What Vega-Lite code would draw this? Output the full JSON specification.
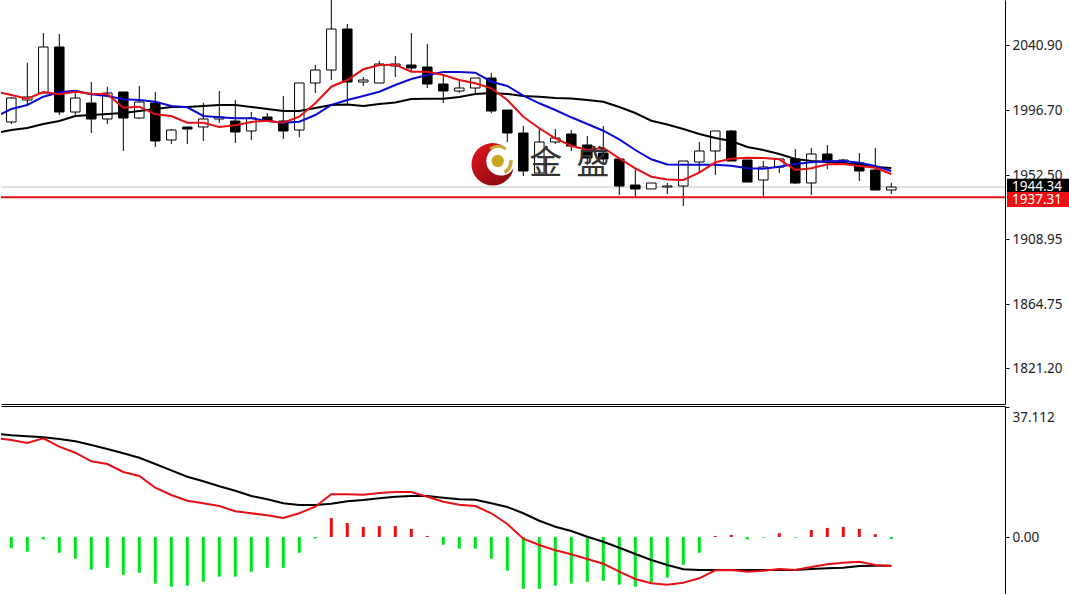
{
"$schema":"https://vega.github.io/schema/vega-lite/v6.json",
"padding":0,"spacing":2,"bounds":"flush","background":"white",
"config":{"view":{"stroke":null},"font":"Noto Sans"},
"data":{"values":[
{"i":-0.644,"slow":1981.74,"mid":1993.98,"fast":2008.46,"macd":28.06,"signal":29.32},
{"i":0,"open":1988.54,"close":2004.86,"high":2005.54,"low":1987.22,"slow":1983.1,"mid":1997.38,"fast":2006.9,"macd":27.69,"signal":29.03,"hist":-3.2},
{"i":1,"open":2003.5,"close":2005.54,"high":2028.66,"low":2000.1,"slow":1984.46,"mid":2000.1,"fast":2004.38,"macd":26.84,"signal":28.75,"hist":-4.2},
{"i":2,"open":2008.26,"close":2039.54,"high":2049.06,"low":2008.26,"slow":1987.22,"mid":2005.74,"fast":2008.94,"macd":28.18,"signal":28.46,"hist":-0.7},
{"i":3,"open":2039.54,"close":1995.34,"high":2048.38,"low":1993.3,"slow":1989.22,"mid":2008.74,"fast":2007.38,"macd":25.78,"signal":27.98,"hist":-4.5},
{"i":4,"open":1995.34,"close":2004.86,"high":2008.26,"low":1991.94,"slow":1992.62,"mid":2009.82,"fast":2009.14,"macd":24.07,"signal":27.32,"hist":-6.2},
{"i":5,"open":2001.46,"close":1990.58,"high":2015.74,"low":1981.06,"slow":1993.3,"mid":2007.38,"fast":2007.78,"macd":21.61,"signal":26.27,"hist":-9.3},
{"i":6,"open":1990.58,"close":2008.26,"high":2012.34,"low":1987.22,"slow":1993.98,"mid":2006.22,"fast":2007.58,"macd":20.84,"signal":25.12,"hist":-8.8},
{"i":7,"open":2008.94,"close":1991.26,"high":2008.94,"low":1968.82,"slow":1994.66,"mid":2003.98,"fast":1998.26,"macd":18.56,"signal":23.9,"hist":-10.8},
{"i":8,"open":1991.26,"close":2002.14,"high":2013.02,"low":1990.58,"slow":1996.02,"mid":2003.5,"fast":1998.94,"macd":17.42,"signal":22.64,"hist":-10.2},
{"i":9,"open":2001.46,"close":1975.62,"high":2008.94,"low":1971.54,"slow":1997.38,"mid":2002.34,"fast":1993.78,"macd":14.08,"signal":20.84,"hist":-13.3},
{"i":10,"open":1976.3,"close":1983.1,"high":1983.78,"low":1973.58,"slow":1998.74,"mid":1999.42,"fast":1992.62,"macd":11.99,"signal":19.04,"hist":-14.2},
{"i":11,"open":1985.14,"close":1983.78,"high":1985.14,"low":1973.58,"slow":1998.74,"mid":1998.54,"fast":1988.06,"macd":10.36,"signal":17.22,"hist":-13.9},
{"i":12,"open":1985.14,"close":1990.58,"high":2001.46,"low":1975.62,"slow":1999.42,"mid":1992.62,"fast":1988.06,"macd":9.62,"signal":15.9,"hist":-12.8},
{"i":13,"open":1990.58,"close":1991.94,"high":2009.62,"low":1987.9,"slow":2000.1,"mid":1991.74,"fast":1985.14,"macd":8.85,"signal":14.47,"hist":-11.3},
{"i":14,"open":1989.22,"close":1981.74,"high":2003.5,"low":1974.26,"slow":2000.1,"mid":1991.06,"fast":1986.3,"macd":7.34,"signal":13.22,"hist":-11.3},
{"i":15,"open":1982.42,"close":1991.26,"high":1995.34,"low":1976.3,"slow":1998.74,"mid":1991.06,"fast":1988.54,"macd":6.77,"signal":11.71,"hist":-9.9},
{"i":16,"open":1991.94,"close":1989.22,"high":1994.66,"low":1989.22,"slow":1997.38,"mid":1989.22,"fast":1989.42,"macd":6.2,"signal":10.76,"hist":-8.8},
{"i":17,"open":1989.22,"close":1982.42,"high":2006.22,"low":1976.98,"slow":1996.02,"mid":1988.06,"fast":1988.06,"macd":5.42,"signal":9.62,"hist":-8.8},
{"i":18,"open":1983.1,"close":2015.06,"high":2015.06,"low":1978.34,"slow":1996.02,"mid":1988.74,"fast":1992.14,"macd":6.77,"signal":9.14,"hist":-4.5},
{"i":19,"open":2015.06,"close":2023.9,"high":2027.3,"low":2008.26,"slow":1998.06,"mid":1993.3,"fast":2001.26,"macd":8.65,"signal":9.14,"hist":-0.4},
{"i":20,"open":2023.9,"close":2051.78,"high":2073.5,"low":2017.1,"slow":2000.1,"mid":2000.1,"fast":2012.54,"macd":12.19,"signal":9.51,"hist":5.4},
{"i":21,"open":2051.78,"close":2015.74,"high":2055.18,"low":2000.78,"slow":2000.44,"mid":2003.5,"fast":2017.1,"macd":12.19,"signal":10.19,"hist":4.0},
{"i":22,"open":2015.74,"close":2017.1,"high":2019.14,"low":2013.02,"slow":1999.42,"mid":2006.22,"fast":2024.38,"macd":12.08,"signal":10.56,"hist":2.9},
{"i":23,"open":2015.06,"close":2027.98,"high":2030.02,"low":2015.06,"slow":2000.78,"mid":2009.14,"fast":2027.3,"macd":12.56,"signal":11.05,"hist":3.1},
{"i":24,"open":2026.62,"close":2027.98,"high":2033.42,"low":2019.14,"slow":2001.8,"mid":2013.7,"fast":2027.5,"macd":12.85,"signal":11.51,"hist":3.1},
{"i":25,"open":2027.3,"close":2025.26,"high":2049.06,"low":2023.22,"slow":2004.18,"mid":2017.78,"fast":2022.74,"macd":12.85,"signal":11.71,"hist":2.3},
{"i":26,"open":2025.94,"close":2014.38,"high":2041.58,"low":2011.66,"slow":2004.38,"mid":2020.5,"fast":2022.74,"macd":11.51,"signal":11.71,"hist":0.3},
{"i":27,"open":2014.38,"close":2009.62,"high":2020.5,"low":2001.46,"slow":2004.38,"mid":2022.54,"fast":2020.5,"macd":10.08,"signal":11.22,"hist":-2.2},
{"i":28,"open":2009.62,"close":2011.66,"high":2017.1,"low":2008.26,"slow":2005.54,"mid":2022.54,"fast":2017.1,"macd":9.22,"signal":10.76,"hist":-3.3},
{"i":29,"open":2011.66,"close":2018.46,"high":2018.46,"low":2008.26,"slow":2007.58,"mid":2022.06,"fast":2014.86,"macd":8.85,"signal":10.65,"hist":-3.3},
{"i":30,"open":2018.46,"close":1996.02,"high":2021.86,"low":1994.66,"slow":2008.26,"mid":2015.94,"fast":2011.46,"macd":6.77,"signal":9.62,"hist":-6.2},
{"i":31,"open":1996.7,"close":1981.06,"high":1996.7,"low":1974.94,"slow":2007.58,"mid":2013.02,"fast":2003.5,"macd":3.71,"signal":8.57,"hist":-9.6},
{"i":32,"open":1981.06,"close":1955.22,"high":1985.82,"low":1951.82,"slow":2006.22,"mid":2006.42,"fast":1992.14,"macd":-0.49,"signal":6.77,"hist":-14.8},
{"i":33,"open":1953.86,"close":1974.94,"high":1983.78,"low":1952.5,"slow":2005.74,"mid":2001.26,"fast":1984.26,"macd":-2.28,"signal":4.65,"hist":-14.8},
{"i":34,"open":1974.94,"close":1977.66,"high":1983.78,"low":1973.58,"slow":2004.86,"mid":1996.7,"fast":1977.46,"macd":-3.8,"signal":2.94,"hist":-13.9},
{"i":35,"open":1980.38,"close":1972.22,"high":1983.1,"low":1968.82,"slow":2004.52,"mid":1991.74,"fast":1972.42,"macd":-4.94,"signal":1.71,"hist":-13.3},
{"i":36,"open":1972.9,"close":1964.06,"high":1979.02,"low":1959.3,"slow":2003.5,"mid":1987.18,"fast":1969.5,"macd":-6.28,"signal":0.09,"hist":-12.8},
{"i":37,"open":1967.46,"close":1963.38,"high":1985.82,"low":1959.3,"slow":2002.34,"mid":1982.62,"fast":1971.06,"macd":-7.62,"signal":-1.34,"hist":-12.5},
{"i":38,"open":1963.38,"close":1945.02,"high":1963.38,"low":1938.9,"slow":1998.74,"mid":1976.78,"fast":1963.86,"macd":-9.91,"signal":-3.05,"hist":-13.6},
{"i":39,"open":1945.7,"close":1943.0,"high":1957.26,"low":1936.86,"slow":1994.66,"mid":1969.5,"fast":1957.06,"macd":-11.99,"signal":-4.85,"hist":-14.2},
{"i":40,"open":1943.0,"close":1947.06,"high":1947.06,"low":1943.0,"slow":1989.42,"mid":1963.18,"fast":1951.34,"macd":-13.22,"signal":-6.57,"hist":-13.0},
{"i":41,"open":1944.34,"close":1945.02,"high":1947.06,"low":1939.58,"slow":1986.84,"mid":1959.64,"fast":1949.44,"macd":-13.62,"signal":-7.99,"hist":-11.6},
{"i":42,"open":1945.02,"close":1962.02,"high":1962.02,"low":1931.42,"slow":1983.78,"mid":1959.5,"fast":1949.1,"macd":-13.05,"signal":-9.22,"hist":-7.9},
{"i":43,"open":1961.34,"close":1968.82,"high":1974.94,"low":1953.86,"slow":1980.38,"mid":1959.5,"fast":1954.06,"macd":-11.79,"signal":-9.42,"hist":-4.5},
{"i":44,"open":1968.82,"close":1982.42,"high":1982.42,"low":1952.5,"slow":1977.66,"mid":1959.5,"fast":1961.14,"macd":-9.51,"signal":-9.42,"hist":0.3},
{"i":45,"open":1982.42,"close":1962.02,"high":1983.1,"low":1962.02,"slow":1975.62,"mid":1958.82,"fast":1963.58,"macd":-9.42,"signal":-9.42,"hist":0.6},
{"i":46,"open":1962.7,"close":1947.74,"high":1962.7,"low":1947.74,"slow":1971.54,"mid":1957.06,"fast":1964.26,"macd":-9.91,"signal":-9.42,"hist":-0.7},
{"i":47,"open":1949.1,"close":1957.94,"high":1962.02,"low":1938.22,"slow":1969.5,"mid":1956.78,"fast":1964.06,"macd":-9.62,"signal":-9.42,"hist":-0.2},
{"i":48,"open":1957.94,"close":1963.38,"high":1963.38,"low":1953.86,"slow":1966.78,"mid":1958.14,"fast":1963.18,"macd":-9.14,"signal":-9.42,"hist":1.1},
{"i":49,"open":1963.38,"close":1947.06,"high":1970.18,"low":1946.38,"slow":1963.38,"mid":1959.98,"fast":1955.9,"macd":-9.42,"signal":-9.42,"hist":-0.2},
{"i":50,"open":1947.06,"close":1966.78,"high":1970.86,"low":1938.9,"slow":1962.02,"mid":1961.14,"fast":1957.06,"macd":-8.57,"signal":-9.14,"hist":2.0},
{"i":51,"open":1966.78,"close":1961.34,"high":1972.9,"low":1956.58,"slow":1961.34,"mid":1961.82,"fast":1959.78,"macd":-7.79,"signal":-8.94,"hist":2.6},
{"i":52,"open":1961.34,"close":1962.7,"high":1963.38,"low":1960.66,"slow":1960.66,"mid":1962.02,"fast":1959.98,"macd":-7.34,"signal":-8.76,"hist":2.9},
{"i":53,"open":1960.66,"close":1955.22,"high":1967.46,"low":1948.42,"slow":1959.3,"mid":1960.86,"fast":1958.62,"macd":-7.05,"signal":-8.28,"hist":2.3},
{"i":54,"open":1955.9,"close":1942.3,"high":1970.86,"low":1942.3,"slow":1957.94,"mid":1958.62,"fast":1957.46,"macd":-7.99,"signal":-8.19,"hist":0.8},
{"i":55,"open":1942.3,"close":1944.34,"high":1947.06,"low":1939.58,"slow":1957.26,"mid":1955.22,"fast":1953.18,"macd":-8.28,"signal":-8.19,"hist":-0.6}
]},
"vconcat":[
{"width":1004,"height":404,
"encoding":{"x":{"field":"i","type":"quantitative","scale":{"domain":[-0.644,62.106],"nice":false,"zero":false,"padding":0},"axis":{"title":null,"orient":"bottom","labels":false,"ticks":false,"grid":false,"domain":true,"domainColor":"#000","domainWidth":1}}},
"layer":[
{"data":{"values":[{"level":1944.34}]},"mark":{"type":"rule","color":"#c0c0c0","strokeWidth":1},"encoding":{"x":null,"y":{"field":"level","type":"quantitative","scale":{"domain":[1796.78,2071.5],"nice":false,"zero":false},"axis":{"title":null,"orient":"right","values":[2040.9,1996.7,1952.5,1908.95,1864.75,1821.2],"format":".2f","grid":false,"domain":true,"domainColor":"#000","tickColor":"#000","tickSize":4,"labelPadding":3,"labelFont":"Noto Sans","labelFontSize":13.5,"labelColor":"#222"}}}},
{"mark":{"type":"rule","color":"#000","strokeWidth":1,"clip":true},"encoding":{"y":{"field":"low","type":"quantitative"},"y2":{"field":"high"}}},
{"mark":{"type":"bar","size":9.5,"stroke":"#000","strokeWidth":1,"orient":"vertical","clip":true},"encoding":{"y":{"field":"open","type":"quantitative"},"y2":{"field":"close"},"fill":{"condition":{"test":"datum.close<datum.open","value":"#000"},"value":"#fff"}}},
{"mark":{"type":"line","color":"#000","strokeWidth":2,"clip":true},"encoding":{"y":{"field":"slow","type":"quantitative"}}},
{"mark":{"type":"line","color":"#0a0ad2","strokeWidth":2,"clip":true},"encoding":{"y":{"field":"mid","type":"quantitative"}}},
{"mark":{"type":"line","color":"#e60f14","strokeWidth":2,"clip":true},"encoding":{"y":{"field":"fast","type":"quantitative"}}},
{"data":{"values":[{"level":1937.31}]},"mark":{"type":"rule","color":"#e60f14","strokeWidth":2},"encoding":{"x":null,"y":{"field":"level","type":"quantitative"}}},
{"data":{"values":[{"level":1944.34,"i":62.106,"i2":66.2}]},"mark":{"type":"rule","color":"#000","strokeWidth":13.5,"yOffset":-1.5,"xOffset":2},"encoding":{"x2":{"field":"i2"},"y":{"field":"level","type":"quantitative"}}},
{"data":{"values":[{"level":1944.34,"i":62.106}]},"mark":{"type":"text","color":"#fff","align":"left","baseline":"middle","font":"Noto Sans","fontSize":13.5,"dx":7},"encoding":{"y":{"field":"level","type":"quantitative"},"text":{"field":"level","format":".2f"}}},
{"data":{"values":[{"level":1937.31,"i":62.106,"i2":66.2}]},"mark":{"type":"rule","color":"#f00f14","strokeWidth":15,"yOffset":2.2,"xOffset":2},"encoding":{"x2":{"field":"i2"},"y":{"field":"level","type":"quantitative"}}},
{"data":{"values":[{"level":1937.31,"i":62.106}]},"mark":{"type":"text","color":"#fff","align":"left","baseline":"middle","font":"Noto Sans","fontSize":13.5,"dy":2.5,"dx":7},"encoding":{"y":{"field":"level","type":"quantitative"},"text":{"field":"level","format":".2f"}}},
{"data":{"values":[{"i":30.09,"p":1959.78}]},"mark":{"type":"point","filled":true,"shape":"circle","size":1810,"opacity":1,"fill":{"x1":0.2,"y1":0.2,"x2":0.8,"y2":0.9,"gradient":"linear","stops":[{"offset":0,"color":"#d2141c"},{"offset":1,"color":"#8c0a10"}]}},"encoding":{"y":{"field":"p","type":"quantitative"}}},
{"data":{"values":[{"i":30.6,"p":1962.02}]},"mark":{"type":"point","filled":true,"shape":"circle","size":855,"opacity":1,"color":"#fff"},"encoding":{"y":{"field":"p","type":"quantitative"}}},
{"data":{"values":[{"i":30.4,"p":1962}]},"mark":{"type":"point","filled":true,"shape":"circle","size":154,"opacity":1,"color":"#c8a51e"},"encoding":{"y":{"field":"p","type":"quantitative"}}},
{"data":{"values":[{"i":30.4,"p":1962}]},"mark":{"type":"arc","color":"#c8aa32","innerRadius":13,"outerRadius":16,"theta":-0.55,"theta2":0.6},"encoding":{"y":{"field":"p","type":"quantitative"}}},
{"data":{"values":[{"i":30.4,"p":1962}]},"mark":{"type":"arc","color":"#c8aa32","innerRadius":11.5,"outerRadius":15,"theta":1.5,"theta2":2.6},"encoding":{"y":{"field":"p","type":"quantitative"}}},
{"data":{"values":[{"i":33.4,"p":1959.98,"t":"金"},{"i":36.34,"p":1959.98,"t":"盛"}]},"mark":{"type":"text","font":"Noto Sans CJK SC","fontSize":33,"color":"#333","align":"center","baseline":"middle"},"encoding":{"y":{"field":"p","type":"quantitative"},"text":{"field":"t"}}}
]},
{"width":1004,"height":188,
"encoding":{"x":{"field":"i","type":"quantitative","scale":{"domain":[-0.644,62.106],"nice":false,"zero":false},"axis":{"title":null,"orient":"top","labels":false,"ticks":false,"grid":false,"domain":true,"domainColor":"#000","domainWidth":1}}},
"layer":[
{"mark":{"type":"rule","strokeWidth":3,"clip":true},"encoding":{"y":{"field":"hist","type":"quantitative","scale":{"domain":[-16.27,37.4],"nice":false,"zero":false},"axis":{"title":null,"orient":"right","values":[37.112,0],"labelExpr":"datum.value>1 ? '37.112' : '0.00'","grid":false,"domain":true,"domainColor":"#000","tickColor":"#000","tickSize":4,"labelPadding":3,"labelFont":"Noto Sans","labelFontSize":13.5,"labelColor":"#222","labelOffset":{"condition":{"test":"datum.value>1","value":10},"value":0}}},"y2":{"datum":0},"color":{"condition":{"test":"datum.hist>0","value":"#e60f14"},"value":"#00e61e"}}},
{"mark":{"type":"line","color":"#000","strokeWidth":2,"clip":true},"encoding":{"y":{"field":"signal","type":"quantitative"}}},
{"mark":{"type":"line","color":"#e60f14","strokeWidth":2,"clip":true},"encoding":{"y":{"field":"macd","type":"quantitative"}}}
]}
]
}
